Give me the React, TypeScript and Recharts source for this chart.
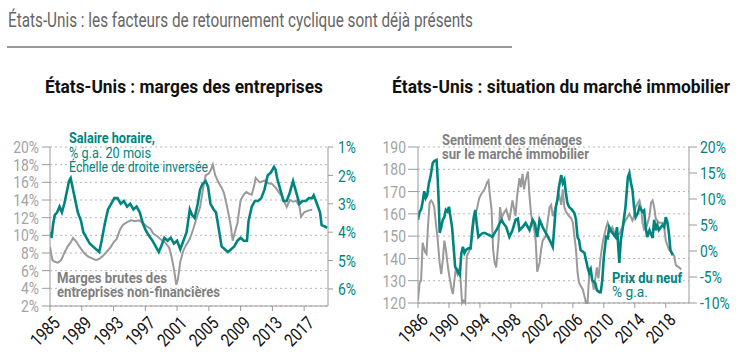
import React from "react";
import { LineChart, Line, XAxis, YAxis, CartesianGrid } from "recharts";

const TEAL = "#00857e";
const GREY = "#9a9a9a";
const FONT = "Roboto, 'Liberation Sans', sans-serif";
const SQUEEZE = 0.82;

// Graphique de gauche : marges des entreprises (échelle gauche, %)
const margesBrutes: [number, number][] = [
  [1985.0, 8.7], [1985.3, 7.2], [1985.6, 7.0], [1986.0, 6.9], [1986.4, 7.2], [1986.8, 8.0],
  [1987.2, 8.7], [1987.6, 9.2], [1987.9, 9.7], [1988.3, 9.3], [1988.8, 8.6], [1989.3, 8.0],
  [1989.8, 7.6], [1990.3, 7.4], [1990.8, 7.2], [1991.3, 7.4], [1991.8, 7.8], [1992.2, 8.2],
  [1992.6, 8.6], [1993.0, 9.2], [1993.4, 9.6], [1993.8, 10.6], [1994.2, 11.2], [1994.7, 11.5],
  [1995.2, 11.7], [1995.7, 11.6], [1996.2, 11.7], [1996.7, 11.4], [1997.2, 11.0], [1997.6, 10.8],
  [1998.0, 10.2], [1998.5, 9.9], [1999.0, 9.5], [1999.5, 9.2], [2000.0, 8.6], [2000.3, 7.6],
  [2000.6, 6.2], [2000.9, 4.4], [2001.1, 5.0], [2001.4, 7.0], [2001.8, 8.3], [2002.2, 9.0],
  [2002.6, 9.6], [2003.0, 10.6], [2003.4, 11.8], [2003.9, 13.2], [2004.3, 15.4], [2004.6, 16.8],
  [2005.0, 17.0], [2005.3, 17.5], [2005.5, 18.0], [2005.8, 16.8], [2006.2, 16.0], [2006.6, 15.4],
  [2006.9, 14.8], [2007.3, 13.2], [2007.7, 11.4], [2008.0, 9.4], [2008.3, 10.4], [2008.6, 11.4],
  [2009.0, 14.0], [2009.4, 14.6], [2009.7, 14.9], [2010.1, 14.7], [2010.4, 14.6], [2010.7, 15.6],
  [2010.9, 16.5], [2011.4, 16.0], [2012.0, 16.2], [2012.5, 15.9], [2013.0, 15.8], [2013.4, 15.4],
  [2013.8, 14.9], [2014.2, 14.4], [2014.8, 13.2], [2015.2, 14.0], [2015.6, 13.8], [2016.0, 13.9],
  [2016.4, 13.3], [2016.6, 12.1], [2017.0, 12.6], [2017.5, 12.8], [2018.0, 12.9],
];

// Salaire horaire, % g.a. 20 mois (échelle droite inversée)
const salaireHoraire: [number, number][] = [
  [1985.0, 4.0], [1985.2, 4.2], [1985.4, 3.7], [1985.6, 3.4], [1985.9, 3.3], [1986.2, 3.1],
  [1986.5, 3.3], [1986.8, 3.0], [1987.1, 2.6], [1987.4, 2.2], [1987.6, 2.1], [1987.9, 2.5],
  [1988.2, 2.9], [1988.5, 3.3], [1988.9, 3.6], [1989.2, 4.0], [1989.6, 4.2], [1990.0, 4.4],
  [1990.4, 4.5], [1990.8, 4.6], [1991.2, 4.7], [1991.5, 4.3], [1991.9, 3.7], [1992.3, 3.2],
  [1992.7, 3.0], [1993.1, 2.8], [1993.5, 2.8], [1993.9, 3.0], [1994.3, 2.9], [1994.7, 3.1],
  [1995.1, 3.0], [1995.5, 3.2], [1995.9, 3.1], [1996.3, 3.3], [1996.7, 3.7], [1997.0, 3.9],
  [1997.4, 4.1], [1997.9, 4.3], [1998.3, 4.5], [1998.7, 4.7], [1999.0, 4.5], [1999.4, 4.2],
  [1999.8, 4.3], [2000.2, 4.2], [2000.6, 4.4], [2001.0, 4.3], [2001.4, 4.6], [2001.8, 4.3],
  [2002.2, 4.0], [2002.6, 3.2], [2002.9, 3.4], [2003.2, 3.5], [2003.6, 3.0], [2003.9, 2.5],
  [2004.2, 2.3], [2004.6, 2.2], [2004.9, 2.4], [2005.2, 3.0], [2005.6, 3.2], [2005.9, 3.3],
  [2006.2, 3.8], [2006.6, 4.5], [2007.0, 4.6], [2007.4, 4.7], [2007.8, 4.6], [2008.2, 4.5],
  [2008.6, 4.3], [2009.0, 4.2], [2009.4, 4.3], [2009.8, 4.3], [2010.0, 3.6], [2010.4, 3.1],
  [2010.8, 2.9], [2011.2, 2.9], [2011.6, 2.8], [2012.0, 2.5], [2012.4, 2.0], [2012.8, 1.9],
  [2013.2, 1.7], [2013.4, 1.8], [2013.6, 2.1], [2014.0, 2.5], [2014.4, 2.9], [2014.8, 2.9],
  [2015.2, 2.6], [2015.6, 2.2], [2016.0, 2.6], [2016.4, 3.0], [2016.8, 2.9], [2017.2, 2.9],
  [2017.6, 2.8], [2018.0, 2.8], [2018.2, 2.7], [2018.6, 3.0], [2019.0, 3.3], [2019.2, 3.75],
  [2019.6, 3.8], [2019.9, 3.85],
];

// Graphique de droite : sentiment des ménages sur le marché immobilier (échelle gauche)
const sentimentMenages: [number, number][] = [
  [1986.0, 121], [1986.2, 129], [1986.4, 130], [1986.6, 147], [1986.9, 143], [1987.1, 142],
  [1987.3, 155], [1987.5, 165], [1987.7, 166], [1987.9, 165], [1988.1, 163], [1988.3, 156],
  [1988.5, 150], [1988.8, 138], [1989.0, 133], [1989.2, 139], [1989.4, 148], [1989.6, 144],
  [1989.8, 138], [1990.0, 133], [1990.3, 127], [1990.5, 124], [1990.7, 130], [1990.9, 136],
  [1991.1, 133], [1991.4, 136], [1991.6, 125], [1991.7, 120], [1991.9, 121], [1992.1, 120],
  [1992.3, 141], [1992.7, 144], [1993.0, 150], [1993.3, 160], [1993.6, 162], [1993.9, 167],
  [1994.2, 169], [1994.6, 171], [1994.9, 174], [1995.1, 175], [1995.3, 168], [1995.5, 162],
  [1995.7, 144], [1995.9, 138], [1996.1, 136], [1996.4, 148], [1996.6, 163], [1996.8, 158],
  [1997.0, 160], [1997.4, 162], [1997.8, 157], [1998.2, 166], [1998.6, 159], [1998.8, 168],
  [1999.1, 176], [1999.3, 172], [1999.5, 178], [1999.7, 171], [1999.9, 175], [2000.2, 179],
  [2000.4, 168], [2000.6, 160], [2000.8, 156], [2001.0, 153], [2001.2, 148], [2001.4, 134],
  [2001.7, 138], [2001.9, 144], [2002.1, 148], [2002.5, 150], [2003.0, 163], [2003.2, 164],
  [2003.4, 159], [2003.8, 163], [2004.2, 169], [2004.5, 164], [2004.7, 171], [2004.9, 163],
  [2005.1, 161], [2005.5, 159], [2005.8, 158], [2006.0, 156], [2006.2, 150], [2006.4, 144],
  [2006.6, 134], [2006.8, 129], [2007.3, 126], [2007.7, 120], [2007.9, 120], [2008.1, 132],
  [2008.3, 136], [2008.5, 130], [2008.7, 126], [2008.9, 131], [2009.1, 136], [2009.3, 131],
  [2009.6, 141], [2009.9, 148], [2010.3, 154], [2010.5, 156], [2010.8, 152], [2011.1, 154],
  [2011.5, 150], [2012.0, 151], [2012.4, 154], [2012.8, 157], [2013.3, 160], [2013.7, 157],
  [2013.9, 159], [2014.1, 163], [2014.6, 166], [2014.8, 163], [2015.0, 156], [2015.2, 153],
  [2015.5, 154], [2015.9, 159], [2016.1, 165], [2016.3, 166], [2016.5, 163], [2016.7, 158],
  [2017.1, 156], [2017.6, 156], [2017.8, 154], [2018.0, 148], [2018.4, 144], [2018.9, 142],
  [2019.1, 141], [2019.3, 137], [2019.7, 136], [2020.0, 135],
];

// Prix du neuf, % g.a. (échelle droite)
const prixDuNeuf: [number, number][] = [
  [1986.0, 6.0], [1986.2, 7.5], [1986.4, 8.0], [1986.6, 9.4], [1986.8, 11.5], [1987.0, 10.2],
  [1987.2, 10.8], [1987.4, 13.0], [1987.6, 14.2], [1987.9, 16.9], [1988.1, 17.3], [1988.4, 17.5],
  [1988.55, 13.7], [1988.7, 8.5], [1988.8, 3.5], [1989.0, 4.6], [1989.2, 6.0], [1989.4, 6.5],
  [1989.6, 7.9], [1989.8, 7.6], [1990.0, 8.5], [1990.2, 6.5], [1990.4, 4.6], [1990.6, 0.8],
  [1990.8, -3.1], [1991.0, -3.5], [1991.2, -4.2], [1991.4, -4.6], [1991.6, -0.4], [1991.8, 0.8],
  [1992.0, -0.4], [1992.2, 0.2], [1992.5, 0.5], [1992.8, 0.5], [1993.0, 4.0], [1993.2, 6.5],
  [1993.4, 7.9], [1993.6, 5.0], [1993.8, 2.7], [1994.0, 3.0], [1994.3, 3.4], [1994.6, 3.5],
  [1995.0, 3.2], [1995.3, 3.0], [1995.6, 2.7], [1995.9, 3.5], [1996.2, 4.2], [1996.5, 5.2],
  [1996.8, 6.0], [1997.0, 5.4], [1997.4, 4.6], [1997.8, 2.7], [1998.2, 4.0], [1998.6, 6.0],
  [1998.9, 6.2], [1999.1, 4.0], [1999.5, 4.6], [1999.9, 5.4], [2000.4, 4.0], [2000.8, 6.0],
  [2001.1, 5.3], [2001.4, 2.7], [2001.7, 6.0], [2002.1, 4.6], [2002.5, 3.5], [2003.0, 2.1],
  [2003.4, 0.8], [2003.6, 4.6], [2003.8, 8.5], [2004.0, 9.8], [2004.2, 12.3], [2004.5, 14.6],
  [2004.7, 13.1], [2004.9, 13.7], [2005.1, 11.2], [2005.3, 9.2], [2005.5, 8.5], [2005.9, 7.9],
  [2006.2, 7.3], [2006.4, 6.0], [2006.6, 2.7], [2006.8, 2.1], [2007.0, 0.2], [2007.5, -0.4],
  [2007.9, -3.1], [2008.1, -4.2], [2008.3, -3.5], [2008.5, -5.6], [2008.9, -6.2], [2009.1, -7.5],
  [2009.4, -7.9], [2009.6, -7.9], [2009.8, -5.6], [2010.0, -1.2], [2010.3, 2.7], [2010.5, 2.5],
  [2010.7, 4.6], [2011.1, 3.5], [2011.5, 2.7], [2011.7, 4.6], [2012.0, -2.3], [2012.2, 2.1],
  [2012.4, 4.0], [2012.8, 8.5], [2013.1, 14.2], [2013.3, 15.0], [2013.5, 13.1], [2013.7, 11.7],
  [2013.9, 8.5], [2014.1, 6.5], [2014.4, 7.3], [2014.6, 8.5], [2015.0, 7.5], [2015.2, 7.8],
  [2015.4, 4.6], [2015.6, 2.7], [2015.9, 4.0], [2016.3, 2.5], [2016.5, 6.0], [2016.7, 4.0],
  [2016.9, 5.0], [2017.1, 4.0], [2017.6, 5.0], [2017.8, 4.6], [2018.0, 6.5], [2018.2, 5.6],
  [2018.4, 3.5], [2018.6, 0.2], [2018.9, -0.8],
];

const anneesGauche = [1985, 1989, 1993, 1997, 2001, 2005, 2009, 2013, 2017];
const anneesDroite = [1986, 1990, 1994, 1998, 2002, 2006, 2010, 2014, 2018];
const margesTicks = [2, 4, 6, 8, 10, 12, 14, 16, 18, 20];
const salaireTicks = [1, 2, 3, 4, 5, 6];
const sentimentTicks = [120, 130, 140, 150, 160, 170, 180, 190];
const prixTicks = [-10, -5, 0, 5, 10, 15, 20];

const toRows = (s: [number, number][]) => s.map(([x, v]) => ({ x, v }));
const pct = (v: number) => `${v}%`;

const YearTick = (props: any) => {
  const { x, y, payload } = props;
  return (
    <g transform={`translate(${x + 4},${y + 4}) rotate(-45)`}>
      <text textAnchor="end" transform={`scale(${SQUEEZE},1)`} fontSize={18} fill="#111" fontFamily={FONT} dy={10}>
        {payload.value}
      </text>
    </g>
  );
};

const ValueTick = (props: any) => {
  const { x, y, payload, textAnchor, fill, fmt } = props;
  return (
    <g transform={`translate(${x},${y})`}>
      <text textAnchor={textAnchor} transform={`scale(${SQUEEZE},1)`} fontSize={17} fill={fill} fontFamily={FONT} dy="0.36em">
        {fmt ? fmt(payload.value) : payload.value}
      </text>
    </g>
  );
};

function MargesChart() {
  return (
    <LineChart width={375} height={359} margin={{ top: 147, right: 0, left: 0, bottom: 0 }}>
      <CartesianGrid yAxisId="g" vertical={false} stroke="#b5b5b5" strokeDasharray="2 3" />
      <XAxis
        dataKey="x"
        type="number"
        domain={[1985, 2020]}
        ticks={anneesGauche}
        allowDataOverflow
        height={53}
        stroke={GREY}
        tickSize={5}
        tick={<YearTick />}
        interval={0}
      />
      <YAxis
        yAxisId="g"
        domain={[2, 20]}
        ticks={margesTicks}
        width={50}
        stroke={GREY}
        tickSize={8}
        tickMargin={3}
        tick={<ValueTick fill="#a3a3a3" fmt={pct} />}
        interval={0}
      />
      <YAxis
        yAxisId="d"
        orientation="right"
        reversed
        domain={[1, 6.6]}
        ticks={salaireTicks}
        width={47}
        stroke={GREY}
        tickSize={5}
        tickMargin={5}
        tick={<ValueTick fill={TEAL} fmt={pct} />}
        interval={0}
      />
      <Line yAxisId="g" data={toRows(margesBrutes)} dataKey="v" type="linear" stroke={GREY} strokeWidth={2} dot={false} isAnimationActive={false} />
      <Line yAxisId="d" data={toRows(salaireHoraire)} dataKey="v" type="linear" stroke={TEAL} strokeWidth={2.6} dot={false} isAnimationActive={false} />
    </LineChart>
  );
}

function ImmobilierChart() {
  return (
    <LineChart width={375} height={359} margin={{ top: 147, right: 0, left: 0, bottom: 0 }}>
      <CartesianGrid yAxisId="g" vertical={false} stroke="#b5b5b5" strokeDasharray="2 3" />
      <XAxis
        dataKey="x"
        type="number"
        domain={[1986, 2021]}
        ticks={anneesDroite}
        allowDataOverflow
        height={56}
        stroke={GREY}
        tickSize={5}
        tick={<YearTick />}
        interval={0}
      />
      <YAxis
        yAxisId="g"
        domain={[120, 190]}
        ticks={sentimentTicks}
        width={43}
        stroke={GREY}
        tickSize={10}
        tickMargin={2}
        tick={<ValueTick fill="#a3a3a3" />}
        interval={0}
      />
      <YAxis
        yAxisId="d"
        orientation="right"
        domain={[-10, 20]}
        ticks={prixTicks}
        width={61}
        stroke={GREY}
        tickSize={8}
        tickMargin={3}
        tick={<ValueTick fill={TEAL} fmt={pct} />}
        interval={0}
      />
      <Line yAxisId="g" data={toRows(sentimentMenages)} dataKey="v" type="linear" stroke={GREY} strokeWidth={2} dot={false} isAnimationActive={false} />
      <Line yAxisId="d" data={toRows(prixDuNeuf)} dataKey="v" type="linear" stroke={TEAL} strokeWidth={2.6} dot={false} isAnimationActive={false} />
    </LineChart>
  );
}

const Label = ({ x, y, w, size = 15, bold = false, fill, children }: any) => (
  <text x={x} y={y} fontSize={size} fontWeight={bold ? "bold" : "normal"} fill={fill} textLength={w} lengthAdjust="spacingAndGlyphs">
    {children}
  </text>
);

export default function App() {
  return (
    <div style={{ position: "absolute", left: 0, top: 0, width: 750, height: 359, background: "#fff", fontFamily: FONT }}>
      <div style={{ position: "absolute", left: 0, top: 0 }}>
        <MargesChart />
      </div>
      <div style={{ position: "absolute", left: 375, top: 0 }}>
        <ImmobilierChart />
      </div>
      <svg width={750} height={359} style={{ position: "absolute", left: 0, top: 0, pointerEvents: "none" }} fontFamily={FONT}>
        <Label x={8} y={27} w={465} size={21} fill="#666">États-Unis : les facteurs de retournement cyclique sont déjà présents</Label>
        <line x1={7} x2={512} y1={47} y2={47} stroke="#999" strokeWidth={2} />
        <Label x={45} y={93} w={278} size={18} bold fill="#111">États-Unis : marges des entreprises</Label>
        <Label x={392} y={93} w={338} size={18} bold fill="#111">États-Unis : situation du marché immobilier</Label>

        <Label x={69} y={143} w={86} bold fill={TEAL}>Salaire horaire,</Label>
        <Label x={69} y={158} w={82} fill={TEAL}>% g.a. 20 mois</Label>
        <Label x={69} y={172} w={139} fill={TEAL}>Échelle de droite inversée</Label>
        <Label x={57} y={283} w={110} bold fill="#808080">Marges brutes des</Label>
        <Label x={57} y={297} w={163} bold fill="#808080">entreprises non-financières</Label>

        <Label x={442} y={145} w={140} bold fill="#808080">Sentiment des ménages</Label>
        <Label x={442} y={159} w={147} bold fill="#808080">sur le marché immobilier</Label>
        <Label x={612} y={283} w={70} bold fill={TEAL}>Prix du neuf</Label>
        <Label x={612} y={297} w={36} fill={TEAL}>% g.a.</Label>
      </svg>
    </div>
  );
}
